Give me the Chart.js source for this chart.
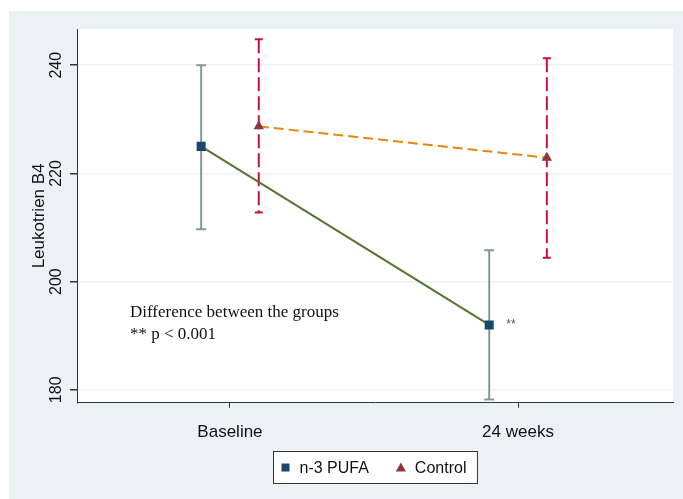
<!DOCTYPE html>
<html>
<head>
<meta charset="utf-8">
<script src="https://cdn.jsdelivr.net/npm/chart.js@4.4.1/dist/chart.umd.min.js"></script>
<style>
html,body{margin:0;padding:0;background:#fff;}
#wrap{width:683px;height:499px;}
</style>
</head>
<body>
<div id="wrap"><canvas id="myChart"></canvas></div>
<script>
// values
const categories=["Baseline","24 weeks"];
const seriesNames=["n-3 PUFA","Control"];
const pufaMean=[225,192];
const pufaLow=[209.7,178.2];
const pufaHigh=[240,205.8];
const controlMean=[228.7,222.9];
const controlLow=[212.8,204.4];
const controlHigh=[244.8,241.3];
const yTicks=[180,200,220,240];
const yTitle="Leukotrien B4";
const noteLines=["Difference between the groups","** p < 0.001"];
const sigMark="**";

const pufaOff=-0.1, ctrlOff=0.1;
const bgGray="#eaf2f3";
const sans="'Liberation Sans', Arial, sans-serif";

const backdrop={
    id:"backdrop",
    beforeDraw(chart){
        const ctx=chart.ctx, a=chart.chartArea;
        ctx.save();
        ctx.fillStyle="#fff";
        ctx.fillRect(0,0,chart.width,chart.height);
        ctx.fillStyle=bgGray;
        ctx.fillRect(9,11,chart.width-9,chart.height-11);
        ctx.fillStyle="#fff";
        ctx.fillRect(a.left,a.top,a.right-a.left,a.bottom-a.top);
        ctx.restore();
    }
};

const errorBars={
    id:"errorBars",
    beforeDatasetsDraw(chart){
        const ctx=chart.ctx, xs=chart.scales.x, ys=chart.scales.y;
        const sets=[
            {lo:pufaLow,hi:pufaHigh,off:pufaOff,color:"#7f9c93",dash:[],cap:5},
            {lo:controlLow,hi:controlHigh,off:ctrlOff,color:"#c8103f",dash:[14,5],cap:4}
        ];
        ctx.save();
        ctx.lineWidth=2;
        sets.forEach(s=>{
            ctx.strokeStyle=s.color;
            categories.forEach((c,i)=>{
                const x=xs.getPixelForValue(i+s.off);
                const y1=ys.getPixelForValue(s.lo[i]);
                const y2=ys.getPixelForValue(s.hi[i]);
                ctx.setLineDash(s.dash);
                ctx.beginPath();ctx.moveTo(x,y2);ctx.lineTo(x,y1);ctx.stroke();
                ctx.setLineDash([]);
                ctx.beginPath();
                ctx.moveTo(x-s.cap,y1);ctx.lineTo(x+s.cap,y1);
                ctx.moveTo(x-s.cap,y2);ctx.lineTo(x+s.cap,y2);
                ctx.stroke();
            });
        });
        ctx.restore();
    }
};

const notes={
    id:"notes",
    afterDatasetsDraw(chart){
        const ctx=chart.ctx, xs=chart.scales.x, ys=chart.scales.y;
        ctx.save();
        ctx.fillStyle="#111";
        ctx.textBaseline="middle";
        ctx.textAlign="left";
        ctx.font="17px 'Liberation Serif', 'Times New Roman', serif";
        const nx=xs.getPixelForValue(-0.347), ny=ys.getPixelForValue(194.2);
        noteLines.forEach((t,i)=>ctx.fillText(t,nx,ny+i*22));
        ctx.font="12px "+sans;
        ctx.fillStyle="#555";
        ctx.fillText(sigMark,xs.getPixelForValue(1+pufaOff)+17,ys.getPixelForValue(pufaMean[1]));
        // legend
        const a=chart.chartArea;
        ctx.font="16px "+sans;
        const w1=ctx.measureText(seriesNames[0]).width, w2=ctx.measureText(seriesNames[1]).width;
        const bw=83+w1+w2, bh=32;
        const bx=Math.round((a.left+a.right)/2-bw/2)+0.5, by=Math.round(a.bottom+48)+0.5;
        ctx.fillStyle="#fff";
        ctx.fillRect(bx,by,bw,bh);
        ctx.strokeStyle="#333";ctx.lineWidth=1;
        ctx.strokeRect(bx,by,bw,bh);
        const cy=by+bh/2;
        let x=bx+8;
        ctx.fillStyle="#1a476f";
        ctx.fillRect(x,cy-4,8,8);
        x+=18;
        ctx.fillStyle="#111";
        ctx.fillText(seriesNames[0],x,cy+1);
        x+=w1+28;
        ctx.fillStyle="#90353b";
        ctx.beginPath();ctx.moveTo(x+4,cy-5);ctx.lineTo(x+9,cy+4);ctx.lineTo(x-1,cy+4);ctx.closePath();ctx.fill();
        x+=18;
        ctx.fillStyle="#111";
        ctx.fillText(seriesNames[1],x,cy+1);
        ctx.restore();
    }
};

var ctx=document.getElementById("myChart").getContext("2d");
var myChart=new Chart(ctx,{
    type:"line",
    data:{
        datasets:[
            {
                label:seriesNames[0],
                data:categories.map((c,i)=>({x:i+pufaOff,y:pufaMean[i]})),
                borderColor:"#55752f",
                borderWidth:2,
                pointStyle:"rect",
                pointRadius:6.4,
                pointBorderWidth:0,
                pointBackgroundColor:"#1a476f",
                pointBorderColor:"#1a476f",
            },
            {
                label:seriesNames[1],
                data:categories.map((c,i)=>({x:i+ctrlOff,y:controlMean[i]})),
                borderColor:"#e8870e",
                borderWidth:2,
                borderDash:[10,5],
                pointStyle:"triangle",
                pointRadius:6,
                pointBorderWidth:0,
                pointBackgroundColor:"#90353b",
                pointBorderColor:"#90353b",
            },
        ],
    },
    options:{
        responsive:true,
        maintainAspectRatio:false,
        animation:false,
        layout:{padding:{left:22.4,top:29,right:10,bottom:42.8}},
        plugins:{legend:{display:false},tooltip:{enabled:false}},
        scales:{
            x:{
                type:"linear",
                min:-0.531,
                max:1.538,
                afterBuildTicks:(s)=>{s.ticks=categories.map((c,i)=>({value:i}));},
                ticks:{
                    callback:(v)=>categories[v],
                    color:"#111",
                    font:{family:sans,size:17},
                    padding:14,
                    maxRotation:0,
                },
                grid:{drawOnChartArea:false,tickLength:5,tickColor:"#333"},
                border:{color:"#333",width:1},
            },
            y:{
                min:177.6,
                max:246.7,
                afterBuildTicks:(s)=>{s.ticks=yTicks.map(v=>({value:v}));},
                ticks:{
                    color:"#111",
                    font:{family:sans,size:16},
                    minRotation:90,
                    maxRotation:90,
                    crossAlign:"center",
                    padding:0,
                },
                grid:{color:bgGray,lineWidth:1.5,tickLength:7,tickColor:"#333"},
                border:{color:"#333",width:1},
                title:{
                    display:true,
                    text:yTitle,
                    color:"#111",
                    font:{family:sans,size:17},
                    padding:{top:7,bottom:1},
                },
            },
        },
    },
    plugins:[backdrop,errorBars,notes],
});
</script>
</body>
</html>
